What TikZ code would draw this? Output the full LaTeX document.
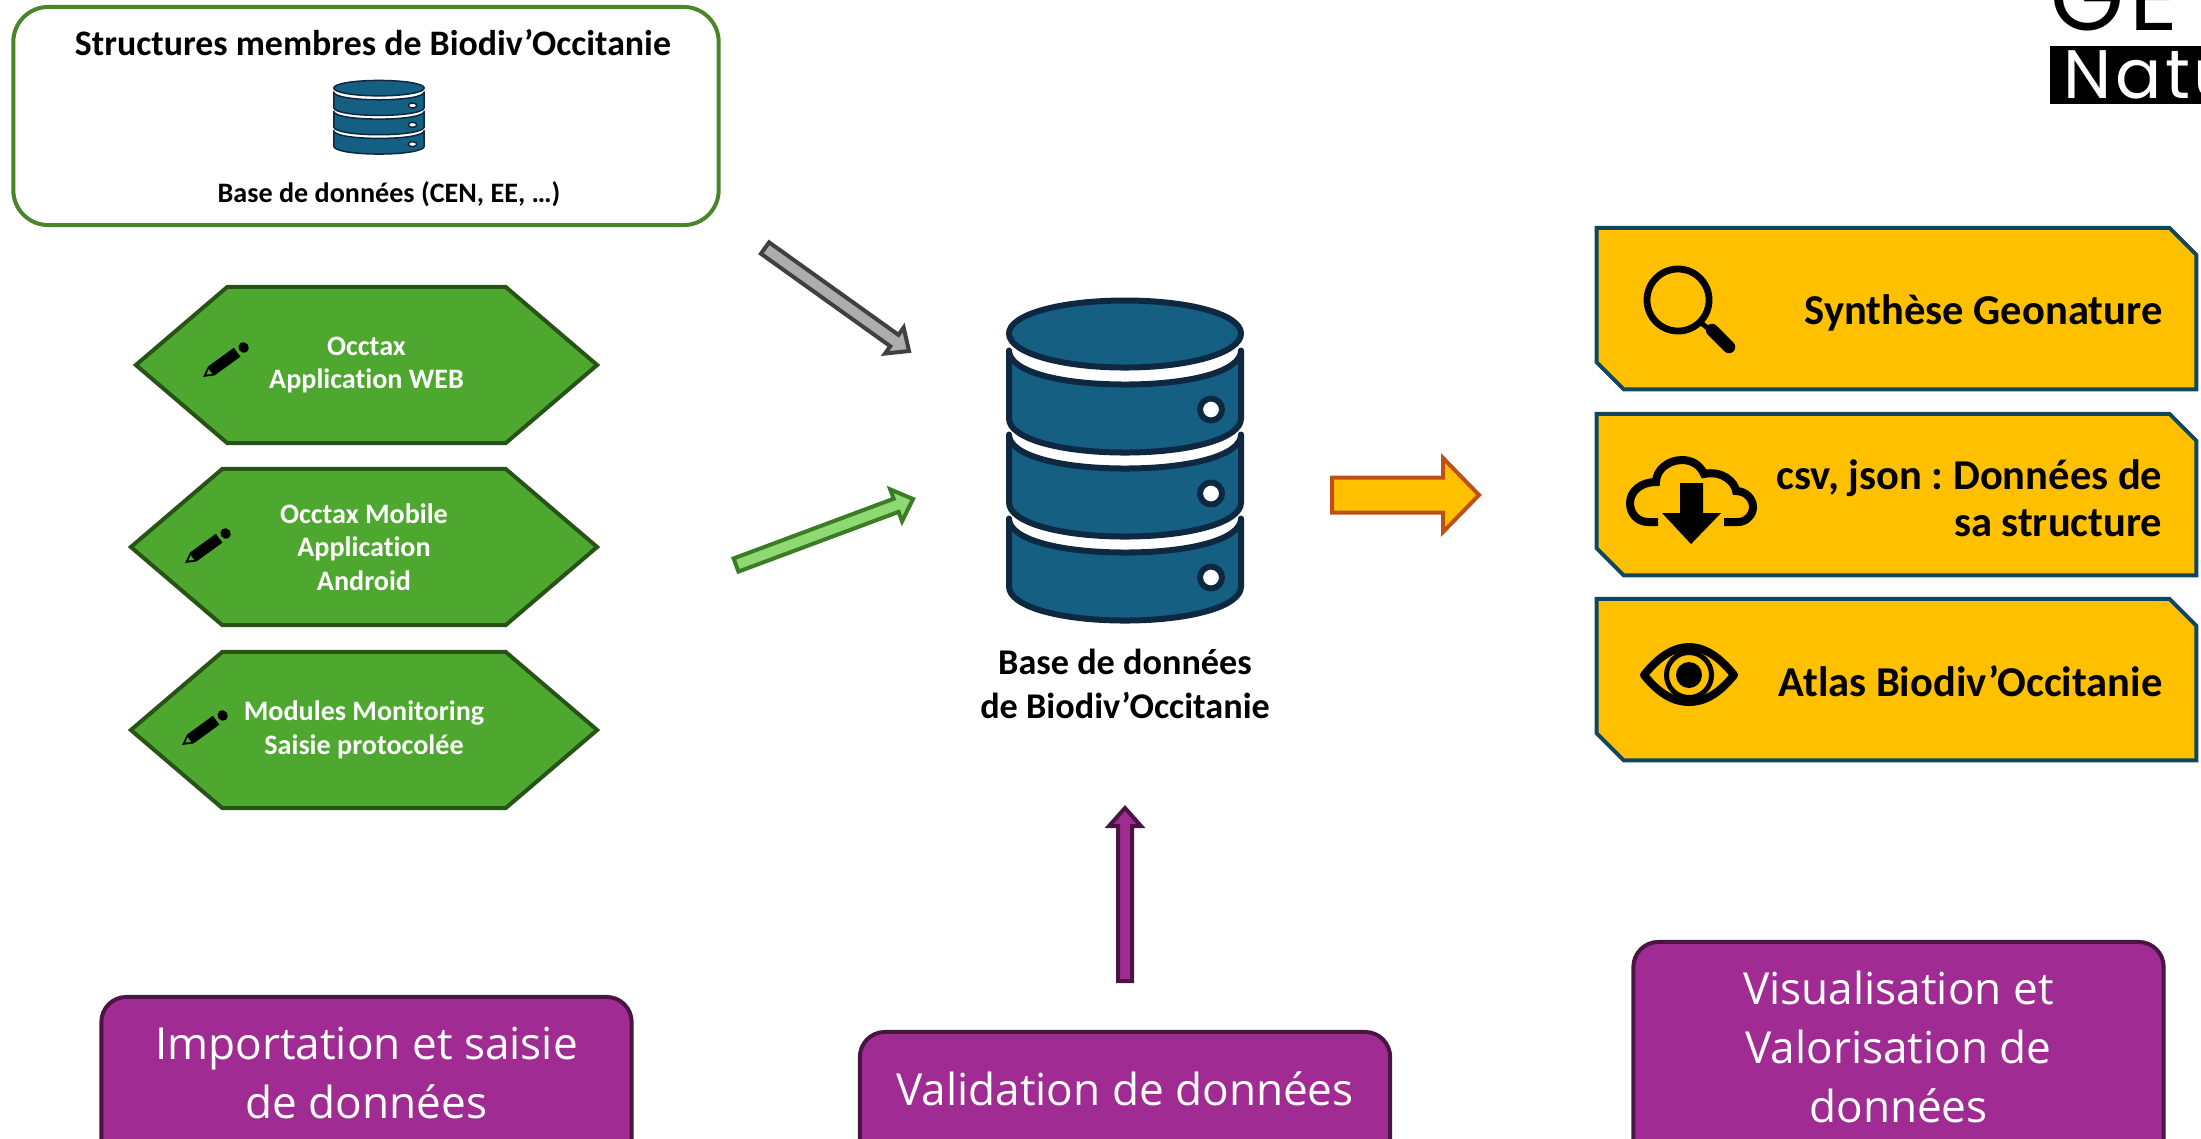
\documentclass[tikz,border=0pt]{standalone}
\usepackage{fontspec}
\setmainfont[Ligatures=NoCommon]{Carlito}
\newfontfamily\boxfont{Open Sans}
\newfontfamily\logofont[LetterSpace=5]{Poppins}
\frenchspacing
\usetikzlibrary{calc,shapes.symbols}
\definecolor{dbfill}{HTML}{156082}
\definecolor{dbline}{HTML}{0E2841}
\definecolor{gold}{HTML}{FFC000}
\definecolor{goldline}{HTML}{0F4761}
\definecolor{leaf}{HTML}{4EA72E}
\definecolor{leafline}{HTML}{275317}
\definecolor{mauve}{HTML}{A02B93}
\definecolor{mauveline}{HTML}{4A1542}
\tikzstyle{hexa} = [signal, signal to=west and east, signal pointer angle=81, fill=leaf, draw=leafline, line width=0.4mm, minimum height=15.6mm, text=white, font=\fontsize{8}{9.5}\selectfont\bfseries, align=center, inner sep=0pt]
\tikzstyle{action} = [rectangle, minimum width=59.8mm, minimum height=16mm, inner sep=0pt]
\tikzstyle{actionframe} = [fill=gold, draw=goldline, line width=0.4mm, line join=miter]
\tikzstyle{actiontext} = [anchor=east, align=right, inner sep=0pt, font=\fontsize{12.1}{13.2}\selectfont\bfseries]
\tikzstyle{step box} = [rectangle, rounded corners=2.5mm, fill=mauve, draw=mauveline, line width=0.4mm, minimum width=53mm]
\tikzstyle{step text} = [text=white, align=center, inner sep=0pt, font=\boxfont\fontsize{12.55}{16.8}\selectfont]
\tikzstyle{step arrow} = [fill=mauve, draw=mauveline, line width=0.4mm]
\tikzstyle{dbpart} = [fill=dbfill, draw=dbline, line join=round]
\tikzset{
	blockarrow/.style n args={3}{line join=miter, to path={
		($(\tikztostart)!#1!90:(\tikztotarget)$) -- ($(\tikztotarget)!#3!(\tikztostart)!#1!90:(\tikztotarget)$) -- ($(\tikztotarget)!#3!(\tikztostart)!#2!90:(\tikztotarget)$) -- (\tikztotarget) -- ($(\tikztotarget)!#3!(\tikztostart)!#2!-90:(\tikztotarget)$) -- ($(\tikztotarget)!#3!(\tikztostart)!#1!-90:(\tikztotarget)$) -- ($(\tikztostart)!#1!-90:(\tikztotarget)$) -- cycle}},
	dbicon/.pic={
		\foreach \k in {0,84,168}
			\path[dbpart, shift={(0,\k)}] (-116,-109) .. controls (-116,-88) and (-65,-75) .. (0,-75) .. controls (65,-75) and (116,-88) .. (116,-109) -- (116,-41) .. controls (116,-21) and (65,-7) .. (0,-7) .. controls (-65,-7) and (-116,-21) .. (-116,-41) -- cycle
				(86,-61) .. controls (80,-61) and (75,-56) .. (75,-50) .. controls (75,-44) and (80,-39) .. (86,-39) .. controls (92,-39) and (97,-44) .. (97,-50) .. controls (97,-56) and (92,-61) .. (86,-61) -- cycle;
		\foreach \k in {0,84,168}
			\path[fill=white, shift={(0,\k)}] (86,-54.5) .. controls (83.5,-54.5) and (81.5,-52.5) .. (81.5,-50) .. controls (81.5,-47.5) and (83.5,-45.5) .. (86,-45.5) .. controls (88.5,-45.5) and (90.5,-47.5) .. (90.5,-50) .. controls (90.5,-52.5) and (88.5,-54.5) .. (86,-54.5) -- cycle;
		\path[dbpart] (-116,-126) .. controls (-116,-145) and (-65,-159) .. (0,-159) .. controls (65,-159) and (116,-145) .. (116,-126) .. controls (116,-107) and (65,-92) .. (0,-92) .. controls (-65,-92) and (-116,-107) .. (-116,-126) -- cycle;
	},
	pencil/.pic={
		\fill[black] (-27,0) -- (-17,-5.5) -- (15,-5.5) -- (15,5.5) -- (-17,5.5) -- cycle;
		\fill[black, rounded corners=1.5pt] (18,-5.5) -- (28,-5.5) -- (28,5.5) -- (18,5.5) -- cycle;
		\fill[leaf] (-23,0) -- (-18,-3) -- (-18,3) -- cycle;
	}
}

\begin{document}
\begin{tikzpicture}[x=0.01cm, y=-0.01cm]
	\useasboundingbox (0,0) rectangle (2201,1138);
	\clip (0,0) rectangle (2201,1138);

	% sources
	\node[rectangle, rounded corners=3.5mm, draw={rgb,255:red,74;green,133;blue,41}, line width=0.4mm, minimum width=70.5mm, minimum height=21.8mm] (members) at (366,116) {};
	\node[font=\fontsize{10.2}{12}\selectfont\bfseries, inner sep=0pt] (memberstitle) at (373,43) {Structures membres de Biodiv’Occitanie};
	\node[font=\fontsize{8}{9}\selectfont\bfseries, inner sep=0pt] (memberscaption) at (389,194) {Base de données (CEN, EE, …)};
	\pic[xscale=0.39, yscale=0.23, line width=0.15mm] at (379,117) {dbicon};

	\node[hexa, minimum width=46.1mm] (occtax) at (366.5,365) {Occtax\\Application WEB};
	\node[hexa, minimum width=46.6mm] (mobile) at (364,547) {Occtax Mobile\\Application\\Android};
	\node[hexa, minimum width=46.6mm] (modules) at (364,730) {Modules Monitoring\\Saisie protocolée};
	\pic[rotate=36] at (225,361) {pencil};
	\pic[rotate=36] at (207,547) {pencil};
	\pic[rotate=36] at (204,729) {pencil};

	% central base
	\pic[line width=0.6mm] at (1125,459.5) {dbicon};
	\node[font=\fontsize{10.3}{12.5}\selectfont\bfseries, align=center, inner sep=0pt] (base) at (1125,684) {Base de données\\de Biodiv’Occitanie};

	% arrows
	\coordinate (greytail) at (765,248);
	\coordinate (greytip) at (909,351);
	\coordinate (greentail) at (736,565);
	\coordinate (greentip) at (913,499);
	\coordinate (goldtail) at (1332,495);
	\coordinate (goldtip) at (1479,495);
	\coordinate (valtail) at (1125,981);
	\coordinate (valtip) at (1125,808);
	\draw[blockarrow={0.7mm}{1.6mm}{1.8mm}, fill={rgb,255:red,173;green,173;blue,173}, draw={rgb,255:red,64;green,64;blue,64}, line width=0.4mm] (greytail) to (greytip);
	\draw[blockarrow={0.7mm}{1.7mm}{1.8mm}, fill={rgb,255:red,142;green,217;blue,115}, draw={rgb,255:red,59;green,125;blue,35}, line width=0.4mm] (greentail) to (greentip);
	\draw[blockarrow={1.75mm}{3.7mm}{3.6mm}, fill=gold, draw={rgb,255:red,192;green,79;blue,21}, line width=0.4mm] (goldtail) to (goldtip);
	\draw[blockarrow={0.7mm}{1.6mm}{1.8mm}, step arrow] (valtail) to (valtip);

	% outputs
	\node[action] (synthese) at (1896.5,308.5) {};
	\node[action] (export) at (1896.5,494.5) {};
	\node[action] (atlas) at (1896.5,679.5) {};
	\foreach \n in {synthese,export,atlas}
		\draw[actionframe] (\n.north west) -- ([xshift=-2.7mm]\n.north east) -- ([yshift=-2.7mm]\n.north east) -- (\n.south east) -- ([xshift=2.7mm]\n.south west) -- ([yshift=2.7mm]\n.south west) -- cycle;
	\node[actiontext] (synthesetext) at (2163,313) {Synthèse Geonature};
	\node[actiontext] (exporttext) at (2163,498) {csv, json : Données de\\sa structure};
	\node[actiontext] (atlastext) at (2163,681) {Atlas Biodiv’Occitanie};

	% loupe
	\draw[line width=0.68mm] (1678,300) circle [radius=0.31cm];
	\draw[line width=0.5mm] (1700,322) -- (1714,333);
	\draw[line width=1.25mm, line cap=round] (1712,330) -- (1729,347);
	% cloud
	\draw[line width=0.8mm] (1658,522) -- (1648,522) .. controls (1638,522) and (1630,514) .. (1630,503) .. controls (1630,492) and (1640,482) .. (1656,482) .. controls (1656,470) and (1668,460) .. (1682,460) .. controls (1692,460) and (1700,465) .. (1704,474) .. controls (1722,470) and (1735,482) .. (1736,491) .. controls (1746,491) and (1753,499) .. (1753,507) .. controls (1753,515) and (1746,522) .. (1738,522) -- (1724,522);
	\fill (1680,483) -- (1703,483) -- (1703,513) -- (1721,513) -- (1691,544) -- (1662,513) -- (1680,513) -- cycle;
	% eye
	\draw[line width=0.8mm, line join=round] (1644,675) .. controls (1660,655) and (1675,647) .. (1689,647) .. controls (1703,647) and (1718,655) .. (1734,675) .. controls (1718,695) and (1703,702) .. (1689,702) .. controls (1675,702) and (1660,695) .. (1644,675) -- cycle;
	\draw[line width=0.5mm] (1689,675) circle [radius=0.225cm];
	\fill (1689,675) circle [radius=0.13cm];

	% steps
	\node[step box, minimum height=19.3mm] (import) at (366.5,1093.5) {};
	\node[step box, minimum height=15.8mm] (validation) at (1125,1111) {};
	\node[step box, minimum height=24.8mm] (valorisation) at (1898.5,1066) {};
	\node[step text] (importtext) at (366.5,1073) {Importation et saisie\\de données};
	\node[step text] (validationtext) at (1125,1089) {Validation de données};
	\node[step text] (valorisationtext) at (1898.5,1047) {Visualisation et\\Valorisation de\\données};

	% logo
	\node[font=\logofont\fontsize{27}{27}\selectfont, anchor=base west, inner sep=0pt] (logotop) at (2050,30) {GE};
	\node[rectangle, fill=black, anchor=north west, minimum width=16mm, minimum height=5.8mm, inner sep=0pt] (logoband) at (2049,45) {};
	\node[font=\logofont\fontsize{19.5}{20}\selectfont, text=white, anchor=base west, inner sep=0pt] (logotext) at (2063,98) {Natu};
\end{tikzpicture}
\end{document}
